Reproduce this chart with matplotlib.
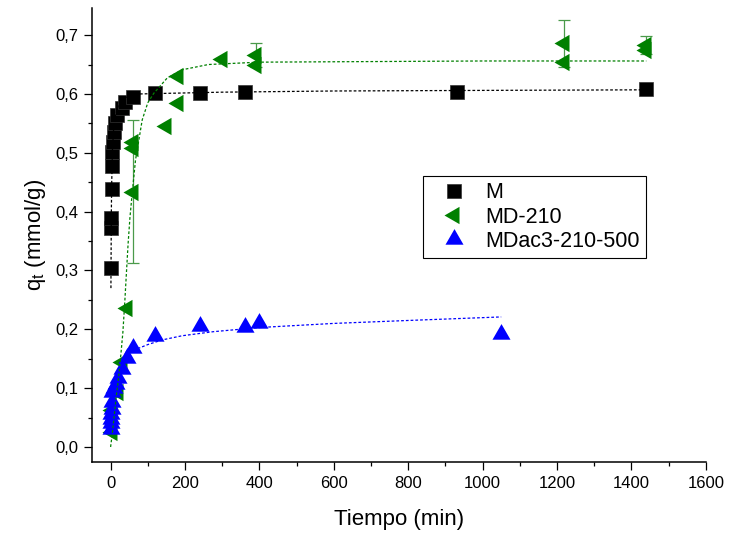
import matplotlib
matplotlib.use("Agg")
import matplotlib.pyplot as plt
from matplotlib.ticker import MultipleLocator, FuncFormatter

plt.rcParams['font.family'] = ['Liberation Sans', 'DejaVu Sans']
plt.rcParams['mathtext.default'] = 'regular'

# M
m_t = [1, 1.5, 2, 3, 4, 5, 6, 8, 12, 18, 30, 40, 60, 120, 240, 360, 930, 1440]
m_q = [0.304, 0.372, 0.389, 0.438, 0.478, 0.502, 0.519, 0.536, 0.550, 0.564,
       0.576, 0.587, 0.595, 0.601, 0.602, 0.604, 0.604, 0.609]

# MD-210 (with standard deviation where measured)
md_t = [5, 3, 20, 30, 45, 60, 60, 60, 150, 180, 180, 300, 390, 390, 1220, 1220, 1440, 1440]
md_q = [0.026, 0.063, 0.094, 0.145, 0.237, 0.434, 0.508, 0.519, 0.546, 0.584,
        0.630, 0.659, 0.649, 0.666, 0.655, 0.686, 0.675, 0.683]
md_err = [0, 0, 0, 0, 0, 0.122, 0, 0, 0, 0, 0, 0, 0, 0.021, 0, 0.040, 0, 0.015]

# MDac3-210-500
mdac_t = [0.5, 1, 1.5, 2, 3, 4, 5, 10, 15, 20, 30, 45, 60, 120, 240, 360, 400, 1050]
mdac_q = [0.031, 0.041, 0.048, 0.056, 0.064, 0.076, 0.093, 0.100, 0.107, 0.118,
          0.132, 0.152, 0.168, 0.188, 0.205, 0.204, 0.211, 0.192]

# kinetic model curves
fit_m_t = [0.9, 1, 2, 3, 5, 8, 12, 20, 30, 50, 80, 150, 300, 600, 1000, 1440]
fit_m_q = [0.27, 0.29, 0.40, 0.45, 0.505, 0.539, 0.561, 0.579, 0.589, 0.597,
           0.600, 0.601, 0.603, 0.605, 0.606, 0.607]
fit_md_t = [0, 5, 10, 15, 20, 27, 33, 38, 42, 47, 52, 58, 67, 85, 100, 116,
            152, 192, 263, 400, 700, 1000, 1440]
fit_md_q = [0, 0.025, 0.055, 0.085, 0.11, 0.153, 0.195, 0.245, 0.29, 0.345, 0.39,
            0.431, 0.488, 0.556, 0.585, 0.601, 0.627, 0.641, 0.650, 0.654, 0.655,
            0.656, 0.656]
fit_mdac_t = [0, 1, 2, 5, 10, 20, 30, 45, 60, 76, 100, 139, 192, 277, 400, 600, 800, 1050]
fit_mdac_q = [0.03, 0.045, 0.06, 0.085, 0.105, 0.13, 0.145, 0.158, 0.164, 0.168,
              0.174, 0.182, 0.189, 0.196, 0.203, 0.210, 0.215, 0.221]

# triangles centred on their centroid
tri_left = [(-1, 0), (0.5, 0.866), (0.5, -0.866), (-1, 0)]
tri_up = [(0, 1), (-0.866, -0.5), (0.866, -0.5), (0, 1)]

fig = plt.figure(figsize=(7.29, 5.33), dpi=100)
ax = fig.add_axes([0.1262, 0.1338, 0.842, 0.8507])

ax.plot(m_t, m_q, linestyle='none', marker='s', markersize=9.6, color='black',
        markeredgecolor='#333333', markeredgewidth=0.5, label='M', zorder=3)
ax.errorbar(md_t, md_q, yerr=[e if e > 0 else float('nan') for e in md_err],
            linestyle='none', marker='none', ecolor='#4a9a4a', elinewidth=0.9,
            capsize=4.5, capthick=0.9, zorder=2)
ax.plot(md_t, md_q, linestyle='none', marker=tri_left, markersize=14.4, color='#008000',
        markeredgewidth=0, label='MD-210', zorder=3)
ax.plot(mdac_t, mdac_q, linestyle='none', marker=tri_up, markersize=15, color='#0000ff',
        markeredgewidth=0, label='MDac3-210-500', zorder=4)

dots = (0, (2.2, 1.6))
ax.plot(fit_m_t, fit_m_q, color='black', linestyle=dots, linewidth=0.9, zorder=5)
ax.plot(fit_md_t, fit_md_q, color='#008000', linestyle=dots, linewidth=0.9, zorder=5)
ax.plot(fit_mdac_t, fit_mdac_q, color='#0000ff', linestyle=dots, linewidth=0.9, zorder=5)

ax.set_xlim(-50, 1600)
ax.set_ylim(-0.025, 0.7456)
ax.xaxis.set_major_locator(MultipleLocator(200))
ax.xaxis.set_minor_locator(MultipleLocator(100))
ax.yaxis.set_major_locator(MultipleLocator(0.1))
ax.yaxis.set_minor_locator(MultipleLocator(0.05))
ax.yaxis.set_major_formatter(FuncFormatter(lambda v, p: f"{v:.1f}".replace('.', ',')))

for side in ('top', 'right'):
    ax.spines[side].set_visible(False)
for side in ('left', 'bottom'):
    ax.spines[side].set_linewidth(1.1)
ax.tick_params(which='major', direction='out', length=6, width=0.9, labelsize=12, pad=4)
ax.tick_params(which='minor', direction='out', length=3, width=0.9)

ax.set_xlabel('Tiempo (min)', fontsize=16, labelpad=13)
ax.set_ylabel('q$_t$ (mmol/g)', fontsize=16, labelpad=5)

leg = ax.legend(loc='upper left', bbox_to_anchor=(0.5386, 0.630), borderaxespad=0,
                fontsize=15.5, fancybox=False, framealpha=1, edgecolor='black',
                borderpad=0.3, labelspacing=0.15, handlelength=2.3, handletextpad=0.3)
leg.get_frame().set_linewidth(0.8)

fig.savefig('out.png', dpi=100)
